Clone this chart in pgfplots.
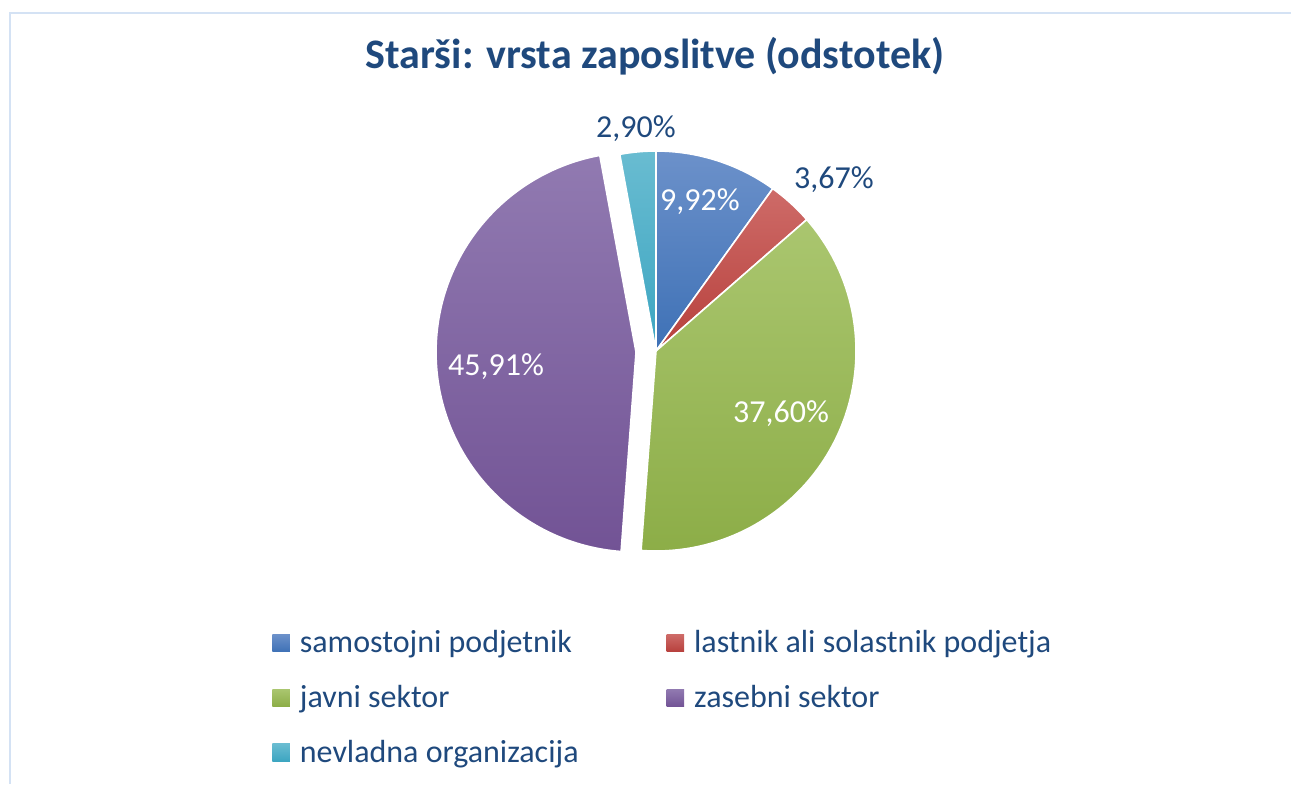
\documentclass[border=0pt]{standalone}
\usepackage{pgfplots}
\usepackage{pgfplotstable}
\pgfplotsset{compat=1.18}
\usepackage{fontspec}
\setmainfont{Carlito}
\definecolor{txtblue}{HTML}{1F497D}
\definecolor{frame}{HTML}{D4E2F4}
\definecolor{bTop}{HTML}{6C91CA}\definecolor{bBot}{HTML}{3E71B6}
\definecolor{rTop}{HTML}{CE6B68}\definecolor{rBot}{HTML}{B7403C}
\definecolor{gTop}{HTML}{AAC66F}\definecolor{gBot}{HTML}{8CAD47}
\definecolor{pTop}{HTML}{917AB1}\definecolor{pBot}{HTML}{725395}
\definecolor{cTop}{HTML}{69BCD1}\definecolor{cBot}{HTML}{3CA5C1}
\pgfplotstableread{
pct
9.92
3.67
37.60
45.91
2.90
}\piedata
\begin{document}
\begin{tikzpicture}
\pgfplotstablegetelem{0}{pct}\of\piedata \let\pA\pgfplotsretval
\pgfplotstablegetelem{1}{pct}\of\piedata \let\pB\pgfplotsretval
\pgfplotstablegetelem{2}{pct}\of\piedata \let\pC\pgfplotsretval
\pgfplotstablegetelem{3}{pct}\of\piedata \let\pD\pgfplotsretval
\pgfplotstablegetelem{4}{pct}\of\piedata \let\pE\pgfplotsretval
\pgfmathsetmacro\aA{90}
\pgfmathsetmacro\aB{\aA-3.6*\pA}
\pgfmathsetmacro\aC{\aB-3.6*\pB}
\pgfmathsetmacro\aD{\aC-3.6*\pC}
\pgfmathsetmacro\aE{\aD-3.6*\pD}
\pgfmathsetmacro\aF{\aE-3.6*\pE}
\pgfmathsetmacro\mD{(\aD+\aE)/2}
\pgfmathsetmacro\exX{656+20*cos(\mD)}
\pgfmathsetmacro\exY{351-20*sin(\mD)}
\begin{axis}[
  at={(0,0)}, anchor=south west,
  width=645.5pt, height=392pt, scale only axis,
  xmin=0, xmax=1291, ymin=0, ymax=784, y dir=reverse,
  hide axis, clip=false,
  legend columns=2,
  legend cell align=left,
  legend style={at={(axis cs:272,626)}, anchor=north west, draw=none, fill=none,
    inner sep=0pt, font=\fontsize{16}{19}\selectfont, text=txtblue,
    row sep=10.8pt,
    /tikz/every odd column/.append style={column sep=3pt},
    /tikz/every even column/.append style={column sep=42pt}},
  legsq/.style={legend image code/.code={\path[##1, draw=none] (0pt,-4.4pt) rectangle (8.75pt,4.4pt);}},
]
\draw[frame, line width=0.8pt] (axis cs:10,784) -- (axis cs:10,13) -- (axis cs:1291,13);
% wedges
\path[draw=white, line width=0.8pt, top color=bTop, bottom color=bBot]
  (axis cs:656,351) -- ++(\aA:100pt) arc[start angle=\aA, end angle=\aB, radius=100pt] -- cycle;
\path[draw=white, line width=0.8pt, top color=rTop, bottom color=rBot]
  (axis cs:656,351) -- ++(\aB:100pt) arc[start angle=\aB, end angle=\aC, radius=100pt] -- cycle;
\path[draw=white, line width=0.8pt, top color=gTop, bottom color=gBot]
  (axis cs:656,351) -- ++(\aC:100pt) arc[start angle=\aC, end angle=\aD, radius=100pt] -- cycle;
\path[draw=white, line width=0.8pt, top color=pTop, bottom color=pBot]
  (axis cs:\exX,\exY) -- ++(\aD:100pt) arc[start angle=\aD, end angle=\aE, radius=100pt] -- cycle;
\path[draw=white, line width=0.8pt, top color=cTop, bottom color=cBot]
  (axis cs:656,351) -- ++(\aE:100pt) arc[start angle=\aE, end angle=\aF, radius=100pt] -- cycle;
% title
\node[anchor=base, text=txtblue, font=\fontsize{21}{25}\selectfont\bfseries] at (axis cs:655,68) {Starši: vrsta zaposlitve (odstotek)};
% labels
\node[anchor=base, text=txtblue, font=\fontsize{16}{19}\selectfont] at (axis cs:636,137) {2,90\%};
\node[anchor=base, text=white, font=\fontsize{16}{19}\selectfont] at (axis cs:700,210) {9,92\%};
\node[anchor=base, text=txtblue, font=\fontsize{16}{19}\selectfont] at (axis cs:834,188) {3,67\%};
\node[anchor=base, text=white, font=\fontsize{16}{19}\selectfont] at (axis cs:496,375) {45,91\%};
\node[anchor=base, text=white, font=\fontsize{16}{19}\selectfont] at (axis cs:781,422) {37,60\%};
% legend
\addlegendimage{legsq, top color=bTop, bottom color=bBot}
\addlegendentry{samostojni podjetnik}
\addlegendimage{legsq, top color=rTop, bottom color=rBot}
\addlegendentry{lastnik ali solastnik podjetja}
\addlegendimage{legsq, top color=gTop, bottom color=gBot}
\addlegendentry{javni sektor}
\addlegendimage{legsq, top color=pTop, bottom color=pBot}
\addlegendentry{zasebni sektor}
\addlegendimage{legsq, top color=cTop, bottom color=cBot}
\addlegendentry{nevladna organizacija}
\end{axis}
\pgfresetboundingbox
\path[use as bounding box] (0,0) rectangle (645.5pt,392pt);
\end{tikzpicture}
\end{document}
